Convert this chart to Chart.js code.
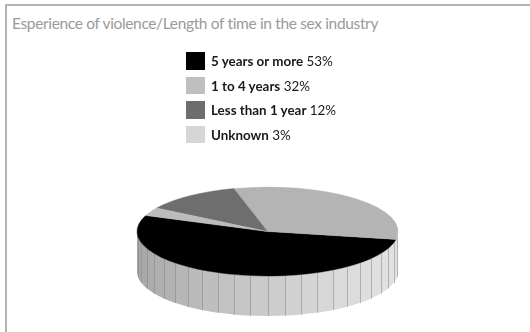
<!DOCTYPE html>
<html>
<head>
<meta charset="utf-8">
<script src="https://cdn.jsdelivr.net/npm/chart.js@4"></script>
<style>
  html, body { margin: 0; padding: 0; background: #fff; }
  body { width: 530px; height: 332px; position: relative; overflow: hidden; }
  .frame {
    position: absolute; left: 5px; top: 4px; width: 560px; height: 360px;
    border: 2px solid #b3b3b3; box-sizing: border-box;
  }
  .title {
    position: absolute; left: 12px; top: 14px; white-space: nowrap;
    font-family: Lato, "Open Sans", sans-serif; font-size: 15.5px; letter-spacing: -0.35px; color: #9a9a9a;
  }
  #chart { position: absolute; left: 0; top: 0; }
  .legend { position: absolute; left: 186px; top: 52px; }
  .legend .row { position: relative; height: 24.6px; }
  .legend .sw { position: absolute; left: 0; top: 0; width: 19px; height: 17.5px; }
  .legend .txt {
    position: absolute; left: 25px; top: 0px; line-height: 18px; white-space: nowrap;
    font-family: Lato, "Open Sans", sans-serif; font-size: 13.4px; color: #1a1a1a;
  }
  .legend b { font-weight: 700; }
</style>
</head>
<body>
<div class="frame"></div>
<div class="title">Esperience of violence/Length of time in the sex industry</div>
<canvas id="chart" width="530" height="332"></canvas>
<div class="legend" id="legend"></div>
<script>
// Share of respondents by length of time in the sex industry
const categories = ['5 years or more', '1 to 4 years', 'Less than 1 year', 'Unknown'];
const shares = [53, 32, 12, 3];
const sliceColors = ['#000000', '#b4b4b4', '#6e6e6e', '#bcbcbc'];
const swatchColors = ['#000000', '#bfbfbf', '#6d6d6d', '#d6d6d6'];

// Legend: bold category name followed by its share
const legendEl = document.getElementById('legend');
categories.forEach((c, i) => {
  const row = document.createElement('div');
  row.className = 'row';
  row.innerHTML = '<div class="sw" style="background:' + swatchColors[i] + '"></div>' +
    '<div class="txt"><b>' + c + '</b> ' + shares[i] + '%</div>';
  legendEl.appendChild(row);
});

// Geometry of the tilted disc on the page
const DISC = { cx: 267.5, cy: 231.5, rx: 130.5, ry: 44.5, depth: 40 };

function sideShade(a) {
  // light coming from the front-right
  const t = 0.5 + 0.5 * Math.cos(a - 20 * Math.PI / 180);
  const g = Math.round(162 + 62 * t);
  return 'rgb(' + g + ',' + g + ',' + g + ')';
}

const tiltPlugin = {
  id: 'tilt',
  beforeDatasetsDraw(chart) {
    const ctx = chart.ctx;
    const arc = chart.getDatasetMeta(0).data[0];
    const { cx, cy, ry, depth } = DISC;
    const rx = arc.outerRadius;

    // cylinder wall (front half of the disc), built from flat facets
    const N = 24;
    ctx.save();
    for (let i = 0; i < N; i++) {
      const a1 = i * Math.PI / N, a2 = (i + 1) * Math.PI / N;
      ctx.beginPath();
      ctx.ellipse(cx, cy, rx, ry, 0, a1 - 0.004, a2 + 0.004, false);
      ctx.ellipse(cx, cy + depth, rx, ry, 0, a2 + 0.004, a1 - 0.004, true);
      ctx.closePath();
      ctx.fillStyle = sideShade((a1 + a2) / 2);
      ctx.fill();
    }
    ctx.strokeStyle = 'rgba(130,130,130,0.5)';
    ctx.lineWidth = 1;
    for (let i = 1; i < N; i++) {
      const a = i * Math.PI / N;
      const x = Math.round(cx + rx * Math.cos(a)) + 0.5;
      const y = cy + ry * Math.sin(a);
      ctx.beginPath();
      ctx.moveTo(x, y);
      ctx.lineTo(x, y + depth);
      ctx.stroke();
    }
    ctx.restore();

    // squash (and mirror) the pie into the top face of the disc
    ctx.save();
    ctx.translate(cx, cy);
    ctx.scale(1, -ry / rx);
    ctx.translate(-arc.x, -arc.y);
  },
  afterDatasetsDraw(chart) {
    chart.ctx.restore();
  }
};

new Chart(document.getElementById('chart'), {
  type: 'pie',
  data: {
    labels: categories,
    datasets: [{
      data: shares,
      backgroundColor: sliceColors,
      borderColor: sliceColors,
      borderWidth: 0.6,
      radius: DISC.rx,
      clip: false
    }]
  },
  options: {
    responsive: false,
    animation: false,
    events: [],
    rotation: -111,
    plugins: { legend: { display: false }, tooltip: { enabled: false }, title: { display: false } }
  },
  plugins: [tiltPlugin]
});
</script>
</body>
</html>
